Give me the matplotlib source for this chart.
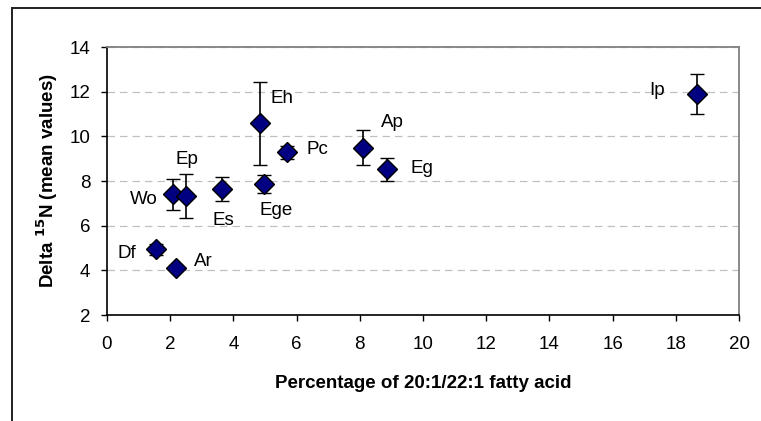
import matplotlib.pyplot as plt
from matplotlib.patches import Rectangle

plt.rcParams['font.family'] = ['Liberation Sans', 'DejaVu Sans']

# Species codes, fatty acid % (x), delta 15N mean (y) and error
species = ['Df', 'Ar', 'Wo', 'Ep', 'Es', 'Eh', 'Ege', 'Pc', 'Ap', 'Eg', 'Ip']
fatty_acid = [1.55, 2.18, 2.10, 2.49, 3.63, 4.84, 4.97, 5.71, 8.11, 8.87, 18.66]
delta_n15 = [4.94, 4.12, 7.40, 7.32, 7.63, 10.58, 7.88, 9.28, 9.50, 8.52, 11.88]
delta_err = [0.26, 0.10, 0.70, 0.98, 0.54, 1.85, 0.40, 0.30, 0.80, 0.52, 0.90]

# label positions (data units)
label_x = [0.63, 3.04, 1.17, 2.53, 3.67, 5.54, 5.35, 6.65, 9.02, 9.96, 17.4]
label_y = [4.77, 4.38, 7.19, 8.95, 6.21, 11.7, 6.66, 9.43, 10.6, 8.54, 12.07]

fig = plt.figure(figsize=(7.61, 4.21), dpi=100)
ax = fig.add_axes([107 / 761, 1 - 315 / 421, (739 - 107) / 761, (315 - 47) / 421])

ax.errorbar(fatty_acid, delta_n15, yerr=delta_err, fmt='D', color='black',
            ecolor='black', elinewidth=1.2, capsize=5, capthick=1.2,
            markerfacecolor='#000080', markeredgecolor='black',
            markeredgewidth=1.0, markersize=10, zorder=3)

for name, lx, ly in zip(species, label_x, label_y):
    ax.text(lx, ly, name, ha='center', va='center', fontsize=13.5, zorder=4)

ax.set_xlim(0, 20)
ax.set_ylim(2, 14)
ax.set_xticks(range(0, 21, 2))
ax.set_yticks(range(2, 15, 2))
ax.yaxis.grid(True, linestyle=(0, (6, 4)), color='#c0c0c0', linewidth=0.9)
ax.set_axisbelow(True)
ax.tick_params(direction='out', length=4, labelsize=13.5, width=1.0)
ax.tick_params(axis='x', pad=11)
ax.tick_params(axis='y', pad=8)

for side in ['top', 'right']:
    ax.spines[side].set_color('#808080')
    ax.spines[side].set_linewidth(1.3)
for side in ['left', 'bottom']:
    ax.spines[side].set_color('black')
    ax.spines[side].set_linewidth(1.2)

ax.set_xlabel('Percentage of 20:1/22:1 fatty acid', fontsize=13.5,
              fontweight='bold', labelpad=16)
ax.set_ylabel('Delta $^{\\mathbf{15}}$N (mean values)', fontsize=13.5,
              fontweight='bold', labelpad=6.5)

# outer chart frame (cut off at right/bottom edges)
frame = Rectangle((12 / 761, -0.1), 1.1, 1 - 8.5 / 421 + 0.1,
                  transform=fig.transFigure, fill=False, edgecolor='#202020',
                  linewidth=1.4, clip_on=False)
fig.patches.append(frame)

fig.savefig('out.png', dpi=100)
